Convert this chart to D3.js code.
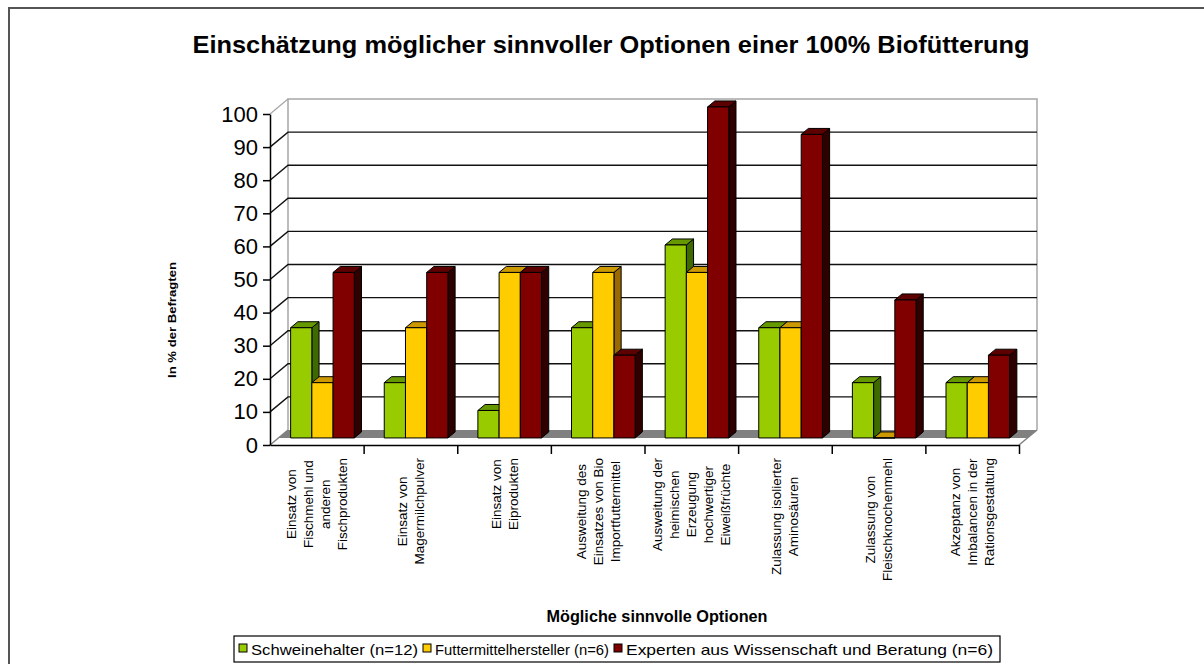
<!DOCTYPE html>
<html>
<head>
<meta charset="utf-8">
<script src="https://cdn.jsdelivr.net/npm/d3@7"></script>
<style>
  body { margin: 0; background: #fff; }
  svg { display: block; font-family: "Liberation Sans", Arial, sans-serif; }
</style>
</head>
<body>
<svg id="chart" width="1204" height="664"></svg>
<script>
// Categories, each given as the lines of its rotated label
const categories = [
  ["Einsatz von", "Fischmehl und", "anderen", "Fischprodukten"],
  ["Einsatz von", "Magermilchpulver"],
  ["Einsatz von", "Eiprodukten"],
  ["Ausweitung des", "Einsatzes von Bio", "Importfuttermittel"],
  ["Ausweitung der", "heimischen", "Erzeugung", "hochwertiger", "Eiweißfrüchte"],
  ["Zulassung isolierter", "Aminosäuren"],
  ["Zulassung von", "Fleischknochenmehl"],
  ["Akzeptanz von", "Imbalancen in der", "Rationsgestaltung"]
];
const seriesNames = [
  "Schweinehalter (n=12)",
  "Futtermittelhersteller (n=6)",
  "Experten aus Wissenschaft und Beratung (n=6)"
];
const schweinehalter = [33.3, 16.7, 8.3, 33.3, 58.3, 33.3, 16.7, 16.7];
const futtermittelhersteller = [16.7, 33.3, 50, 50, 50, 33.3, 0, 16.7];
const experten = [50, 50, 50, 25, 100, 91.7, 41.7, 25];
const yTicks = [0, 10, 20, 30, 40, 50, 60, 70, 80, 90, 100];

const titleText = "Einschätzung möglicher sinnvoller Optionen einer 100% Biofütterung";
const xTitle = "Mögliche sinnvolle Optionen";
const yTitle = "In % der Befragten";

// Face colours per series: front, right side, top
const frontColors = ["#99cc00", "#ffcc00", "#800000"];
const sideColors = ["#3f6a00", "#9a6a00", "#2e0000"];
const topColors = ["#669900", "#cc9900", "#5c0000"];

// 3D layout of the plot box
const depthX = 18, depthY = 15;       // offset of back wall relative to front plane
const barFront = 0.47, barBack = 0.87; // depth of the columns (0 = front, 1 = back)

const svg = d3.select("#chart");

// outer frame (runs off the right and bottom edge)
svg.append("rect")
  .attr("x", 9).attr("y", 8)
  .attr("width", 1400).attr("height", 800)
  .attr("fill", "none")
  .attr("stroke", "#555")
  .attr("stroke-width", 2);

// Scales on the front plane
const x = d3.scaleBand().domain(d3.range(categories.length)).range([270, 1019]);
const xs = d3.scaleBand().domain(d3.range(seriesNames.length))
  .range([x.bandwidth() * 0.13, x.bandwidth() * 0.81]);
const y = d3.scaleLinear().domain([0, 100]).range([445, 114]);
const xEdge = d3.scaleLinear().domain([0, categories.length]).range([270, 1019]);

// project a front-plane point back into depth d
const P = (px, v, d) => [px + d * depthX, y(v) - d * depthY];
const pts = arr => arr.map(p => p.join(",")).join(" ");

const x0 = xEdge(0), x1 = xEdge(categories.length);

// floor
svg.append("polygon")
  .attr("points", pts([P(x0, 0, barFront), P(x1, 0, barFront), P(x1, 0, 1), P(x0, 0, 1)]))
  .attr("fill", "#808080");
svg.append("polyline")
  .attr("points", pts([P(x0, 0, 0), P(x0, 0, 1)]))
  .attr("fill", "none").attr("stroke", "#808080").attr("stroke-width", 1.5);
svg.append("polyline")
  .attr("points", pts([P(x1, 0, 0), P(x1, 0, 1)]))
  .attr("fill", "none").attr("stroke", "#808080").attr("stroke-width", 1.5);

// back wall frame
svg.append("polyline")
  .attr("points", pts([P(x0, 0, 1), P(x0, 100, 1), P(x1, 100, 1), P(x1, 0, 1)]))
  .attr("fill", "none").attr("stroke", "#a6a6a6").attr("stroke-width", 1.5);
svg.append("polyline")
  .attr("points", pts([P(x0, 100, 0), P(x0, 100, 1)]))
  .attr("fill", "none").attr("stroke", "#a6a6a6").attr("stroke-width", 1.2);

// gridlines on back wall and side wall
const grid = yTicks.filter(v => v > 0 && v < 100);
svg.append("g").selectAll("polyline")
  .data(grid)
  .join("polyline")
  .attr("points", v => pts([P(x0, v, 0), P(x0, v, 1), P(x1, v, 1)]))
  .attr("fill", "none")
  .attr("stroke", "#111")
  .attr("stroke-width", 1.4);

// y axis
const yAxis = svg.append("g")
  .attr("transform", `translate(${x0},0)`)
  .call(d3.axisLeft(y).tickValues(yTicks).tickSize(7).tickSizeOuter(0).tickPadding(5));
yAxis.select(".domain").attr("stroke", "#000").attr("stroke-width", 1.5);
yAxis.selectAll(".tick line").attr("stroke", "#000").attr("stroke-width", 1.5);
yAxis.selectAll(".tick text")
  .attr("font-family", "'Liberation Sans', Arial, sans-serif")
  .style("font-size", "22px")
  .attr("fill", "#000");

// category axis along the front edge
const xAxis = svg.append("g")
  .attr("transform", `translate(0,${y(0)})`)
  .call(d3.axisBottom(xEdge).tickValues(d3.range(1, categories.length + 1))
    .tickFormat("").tickSize(9).tickSizeOuter(0));
xAxis.select(".domain").attr("stroke", "#000").attr("stroke-width", 1.5);
xAxis.selectAll(".tick line").attr("stroke", "#000").attr("stroke-width", 1.5);

// columns: one group per category, bars drawn left to right so they overlap correctly
const rows = categories.map((c, i) => ({
  i,
  values: [schweinehalter[i], futtermittelhersteller[i], experten[i]]
}));

const bars = svg.append("g").selectAll("g")
  .data(rows)
  .join("g")
  .selectAll("g")
  .data(d => d.values.map((v, k) => ({ i: d.i, k, v })))
  .join("g")
  .attr("stroke", "#000")
  .attr("stroke-width", 1)
  .attr("stroke-linejoin", "round");

const left = d => x(d.i) + xs(d.k);
const right = d => left(d) + xs.bandwidth();

bars.append("polygon") // side
  .attr("points", d => pts([P(right(d), 0, barFront), P(right(d), 0, barBack),
    P(right(d), d.v, barBack), P(right(d), d.v, barFront)]))
  .attr("fill", d => sideColors[d.k]);
bars.append("polygon") // top
  .attr("points", d => pts([P(left(d), d.v, barFront), P(right(d), d.v, barFront),
    P(right(d), d.v, barBack), P(left(d), d.v, barBack)]))
  .attr("fill", d => topColors[d.k]);
bars.append("polygon") // front
  .attr("points", d => pts([P(left(d), 0, barFront), P(right(d), 0, barFront),
    P(right(d), d.v, barFront), P(left(d), d.v, barFront)]))
  .attr("fill", d => frontColors[d.k]);

// rotated multi-line category labels, block centred on the category
const lineGap = 17, labelTop = 458;
svg.append("g").selectAll("g")
  .data(categories)
  .join("g")
  .each(function(lines, i) {
    const g = d3.select(this);
    const cx = x(i) + x.bandwidth() / 2;
    const texts = g.selectAll("text")
      .data(lines)
      .join("text")
      .attr("text-anchor", "middle")
      .style("font-size", "13.5px")
      .attr("fill", "#000")
      .text(t => t);
    const maxLen = d3.max(texts.nodes(), n => n.getComputedTextLength());
    texts.attr("transform", (t, j) =>
      `translate(${cx + (j - (lines.length - 1) / 2) * lineGap + 5},${labelTop + maxLen / 2}) rotate(-90)`);
  });

// title
svg.append("text")
  .attr("x", 611).attr("y", 53)
  .attr("text-anchor", "middle")
  .attr("textLength", 837).attr("lengthAdjust", "spacingAndGlyphs")
  .style("font-size", "24px").style("font-weight", "bold")
  .text(titleText);

// axis titles
svg.append("text")
  .attr("x", 657).attr("y", 622)
  .attr("text-anchor", "middle")
  .attr("textLength", 221).attr("lengthAdjust", "spacingAndGlyphs")
  .style("font-size", "17px").style("font-weight", "bold")
  .text(xTitle);

svg.append("text")
  .attr("transform", "translate(176,320) rotate(-90)")
  .attr("text-anchor", "middle")
  .attr("textLength", 116).attr("lengthAdjust", "spacingAndGlyphs")
  .style("font-size", "11px").style("font-weight", "bold")
  .text(yTitle);

// legend
const legendTextLen = [167, 174, 367];
const legend = svg.append("g");
legend.append("rect")
  .attr("x", 234).attr("y", 636)
  .attr("width", 766).attr("height", 26)
  .attr("fill", "#fff").attr("stroke", "#000").attr("stroke-width", 1.2);
let lx = 239;
seriesNames.forEach((name, k) => {
  legend.append("rect")
    .attr("x", lx).attr("y", 644)
    .attr("width", 8).attr("height", 8)
    .attr("fill", frontColors[k]).attr("stroke", "#000");
  legend.append("text")
    .attr("x", lx + 12).attr("y", 655)
    .attr("textLength", legendTextLen[k]).attr("lengthAdjust", "spacingAndGlyphs")
    .style("font-size", "15px")
    .text(name);
  lx += 12 + legendTextLen[k] + 5;
});
</script>
</body>
</html>
